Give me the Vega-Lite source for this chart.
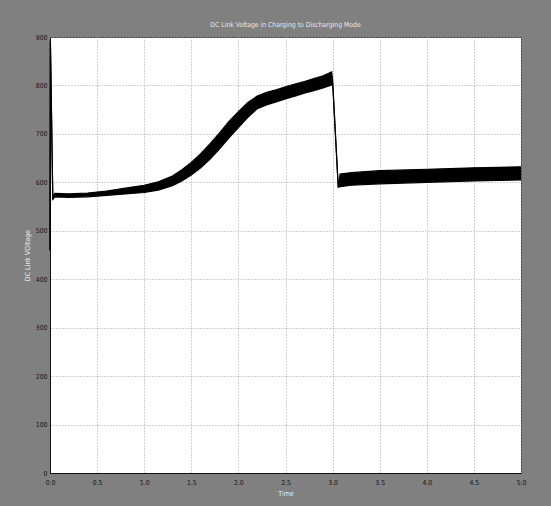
{
  "$schema": "https://vega.github.io/schema/vega-lite/v6.json",
  "width": 471,
  "height": 436,
  "autosize": {"type": "none"},
  "padding": {"left": 50, "top": 37, "right": 30, "bottom": 33},
  "background": "#808080",
  "title": {
    "text": "DC Link Voltage in Charging to Discharging Mode",
    "fontSize": 6.8,
    "font": "Liberation Sans Narrow, DejaVu Sans Condensed, sans-serif",
    "fontWeight": "normal",
    "color": "#e8e8e8",
    "offset": 5
  },
  "config": {
    "view": {"fill": "white", "stroke": "#3a3a3a", "strokeWidth": 1},
    "axis": {
      "labelFont": "Liberation Sans Narrow, DejaVu Sans Condensed, sans-serif",
      "titleFont": "Liberation Sans Narrow, DejaVu Sans Condensed, sans-serif",
      "labelFontSize": 6.8,
      "titleFontSize": 7,
      "titleFontWeight": "normal",
      "labelColor": "#151515",
      "titleColor": "#e8e8e8",
      "domainColor": "#111",
      "ticks": false,
      "gridColor": "#a0a0a0",
      "gridDash": [1, 2],
      "gridWidth": 1
    }
  },
  "data": {
    "values": [
      {"t": 0, "lo": 460, "hi": 460},
      {"t": 0.004, "lo": 892, "hi": 892},
      {"t": 0.03, "lo": 565, "hi": 565},
      {"t": 0.05, "lo": 570, "hi": 577},
      {"t": 0.2, "lo": 569, "hi": 576},
      {"t": 0.4, "lo": 570, "hi": 578},
      {"t": 0.6, "lo": 573, "hi": 582},
      {"t": 0.8, "lo": 576, "hi": 588},
      {"t": 1.0, "lo": 579, "hi": 594},
      {"t": 1.15, "lo": 584, "hi": 601},
      {"t": 1.3, "lo": 593, "hi": 613},
      {"t": 1.4, "lo": 603, "hi": 626},
      {"t": 1.5, "lo": 615, "hi": 641},
      {"t": 1.6, "lo": 630, "hi": 659},
      {"t": 1.7, "lo": 648, "hi": 680},
      {"t": 1.8, "lo": 669, "hi": 702},
      {"t": 1.9, "lo": 692, "hi": 726},
      {"t": 2.0, "lo": 713, "hi": 746},
      {"t": 2.1, "lo": 734, "hi": 765},
      {"t": 2.2, "lo": 752, "hi": 778},
      {"t": 2.3, "lo": 760, "hi": 786},
      {"t": 2.4, "lo": 766, "hi": 791},
      {"t": 2.5, "lo": 772, "hi": 797},
      {"t": 2.6, "lo": 778, "hi": 803},
      {"t": 2.7, "lo": 784, "hi": 808},
      {"t": 2.8, "lo": 789, "hi": 814},
      {"t": 2.9, "lo": 795, "hi": 820},
      {"t": 2.99, "lo": 801, "hi": 828},
      {"t": 3.0, "lo": 806, "hi": 812},
      {"t": 3.06, "lo": 590, "hi": 590},
      {"t": 3.08, "lo": 591, "hi": 617},
      {"t": 3.2, "lo": 594, "hi": 620},
      {"t": 3.5, "lo": 597, "hi": 624},
      {"t": 4.0, "lo": 600, "hi": 627},
      {"t": 4.5, "lo": 603, "hi": 630},
      {"t": 5.0, "lo": 605, "hi": 632}
    ]
  },
  "encoding": {
    "x": {
      "field": "t",
      "type": "quantitative",
      "scale": {"domain": [0, 5], "nice": false},
      "axis": {"values": [0, 0.5, 1, 1.5, 2, 2.5, 3, 3.5, 4, 4.5, 5], "title": "Time", "labelPadding": 6, "titlePadding": 4, "labelFlush": false}
    }
  },
  "layer": [
    {
      "mark": {"type": "area", "color": "black"},
      "encoding": {
        "y": {
          "field": "lo",
          "type": "quantitative",
          "scale": {"domain": [0, 900], "nice": false},
          "axis": {"values": [0, 100, 200, 300, 400, 500, 600, 700, 800, 900], "title": "DC Link VOltage", "labelPadding": 3, "titlePadding": 5, "labelFlush": false}
        },
        "y2": {"field": "hi"}
      }
    },
    {
      "mark": {"type": "line", "color": "black", "strokeWidth": 1.2},
      "encoding": {"y": {"field": "lo", "type": "quantitative"}}
    },
    {
      "mark": {"type": "line", "color": "black", "strokeWidth": 1.2},
      "encoding": {"y": {"field": "hi", "type": "quantitative"}}
    }
  ]
}
